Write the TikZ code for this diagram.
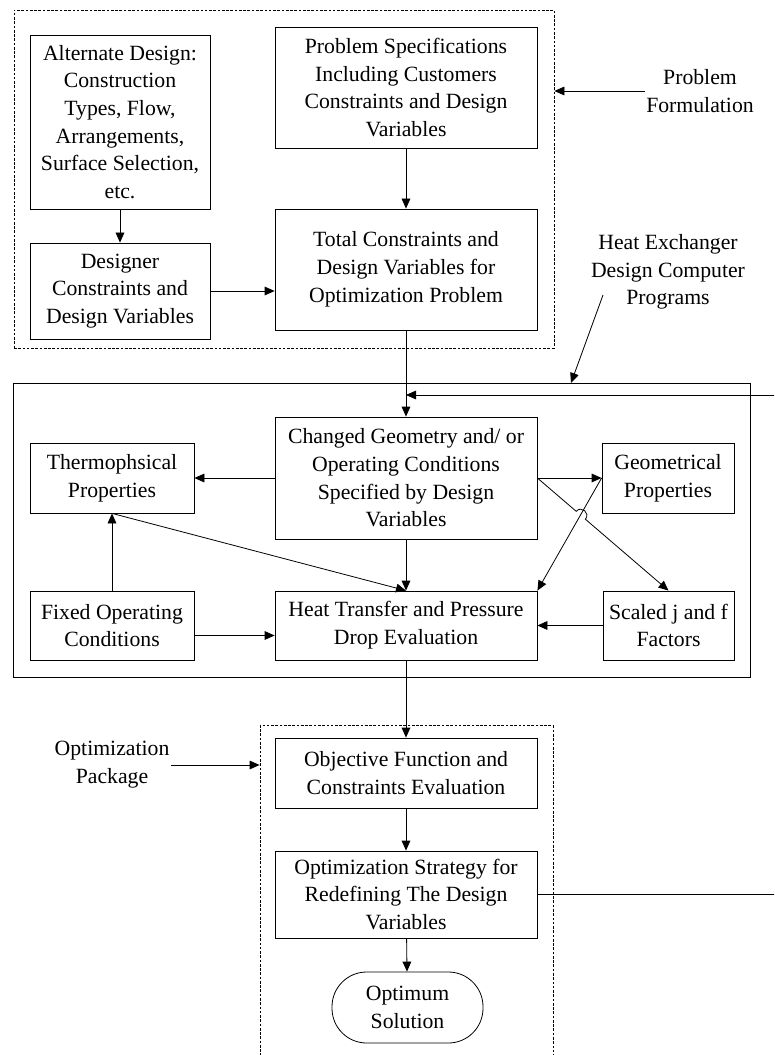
\documentclass[tikz,border=0pt]{standalone}
\usepackage{fontspec}
\setmainfont{Liberation Serif}
\usetikzlibrary{arrows.meta,calc}
\begin{document}
\begin{tikzpicture}[>={Triangle[length=7.5pt,width=6.5pt]},x=0.75pt,y=-0.75pt,line width=0.6pt,
	font=\fontsize{16.3}{20.8}\selectfont,
	blk/.style={draw,align=center,inner sep=0pt},
	note/.style={align=center,inner sep=1pt},
	grp/.style={draw,inner sep=0pt},
	dashbox/.style={dash pattern=on 2pt off 1.2pt}]
	\useasboundingbox (0,0) rectangle (774,1055);
	\clip (0,0) rectangle (774,1055);
	% group frames
	\node[grp,dashbox,minimum width=405pt,minimum height=253.5pt] (form) at (284,179) {};
	\node[grp,minimum width=552.75pt,minimum height=220.5pt] (prog) at (381.5,530) {};
	\node[grp,dashbox,minimum width=219.75pt,minimum height=262pt] (optz) at (406.5,900.5) {};
	% problem formulation
	\node[blk,minimum width=135pt,minimum height=130.5pt] (alt) at (120,122) {Alternate Design:\\Construction\\Types, Flow,\\Arrangements,\\Surface Selection,\\etc.};
	\node[blk,minimum width=196.5pt,minimum height=90.75pt] (spec) at (406,87.5) {Problem Specifications\\Including Customers\\Constraints and Design\\Variables};
	\node[blk,minimum width=135pt,minimum height=72pt] (dsgn) at (120,291) {Designer\\Constraints and\\Design Variables};
	\node[blk,minimum width=196.5pt,minimum height=90.75pt] (total) at (406,269.5) {Total Constraints and\\Design Variables for\\Optimization Problem};
	\node[note] (pform) at (700,91) {Problem\\Formulation};
	\node[note] (hxprog) at (668,272) {Heat Exchanger\\Design Computer\\Programs};
	% design programs
	\node[blk,minimum width=196.5pt,minimum height=91.5pt] (chg) at (406,478) {Changed Geometry and/ or\\Operating Conditions\\Specified by Design\\Variables};
	\node[blk,minimum width=123pt,minimum height=52.5pt] (thermo) at (112,478) {Thermophsical\\Properties};
	\node[blk,minimum width=99pt,minimum height=52.5pt] (geom) at (668,478) {Geometrical\\Properties};
	\node[blk,minimum width=123pt,minimum height=51.75pt] (fixed) at (112,625.5) {Fixed Operating\\Conditions};
	\node[blk,minimum width=196.5pt,minimum height=51.75pt] (heat) at (406,625.5) {Heat Transfer and Pressure\\Drop Evaluation};
	\node[blk,minimum width=98.25pt,minimum height=51.75pt] (scaled) at (668.5,625.5) {Scaled j and f\\Factors};
	% optimization
	\node[note] (optpkg) at (112,765) {Optimization\\Package};
	\node[blk,minimum width=196.5pt,minimum height=52.5pt] (obj) at (406,773) {Objective Function and\\Constraints Evaluation};
	\node[blk,minimum width=196.5pt,minimum height=65.25pt] (strat) at (406,894.5) {Optimization Strategy for\\Redefining The Design\\Variables};
	\node[blk,rounded corners=26pt,minimum width=113.25pt,minimum height=53.25pt] (optim) at (407.5,1007.5) {Optimum\\Solution};
	\coordinate (hxfrom) at (603,295);
	\coordinate (hxto) at (571,383);
	\coordinate (fbr) at (780,894.5);
	\coordinate (fbin) at (406,395);
	% connectors
	\draw[->] (alt) -- (dsgn);
	\draw[->] (spec) -- (total);
	\draw[->] (dsgn.east) -- (dsgn.east -| total.west);
	\draw[->] (total) -- (chg);
	\draw[->] (pform.west) -- (pform.west -| form.east);
	\draw[->] (hxfrom) -- (hxto);
	\draw[->] (optpkg.east) -- (optpkg.east -| optz.west);
	\draw[->] (chg.west) -- (chg.west -| thermo.east);
	\draw[->] (chg.east) -- (geom.west);
	\draw[->] (chg) -- (heat);
	\draw[->] (fixed) -- (thermo);
	\draw[->] ([yshift=-7.5pt]fixed.east) -- ([yshift=-7.5pt]heat.west);
	\draw[->] (scaled) -- (heat);
	\draw[->] (thermo.south) -- (heat.north);
	\draw[->] (geom.west) -- (heat.north east);
	\draw[->] (chg.east) -- ($(chg.east)!0.296!(scaled.north)$) .. controls +(49.3:6pt) and +(49.3:6pt) .. ($(chg.east)!0.366!(scaled.north)$) -- (scaled.north);
	\draw[->] (heat) -- (obj);
	\draw[->] (obj) -- (strat);
	\draw[->] (strat) -- (optim);
	\draw[->] (strat.east) -- (fbr) |- (fbin);
\end{tikzpicture}
\end{document}
